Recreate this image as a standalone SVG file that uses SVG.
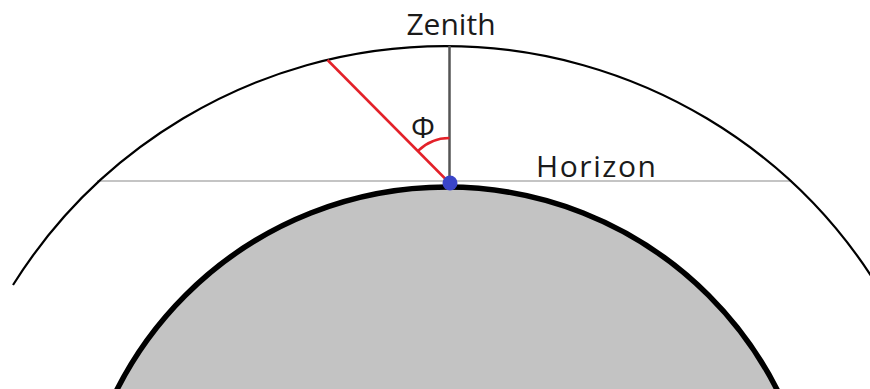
<svg xmlns="http://www.w3.org/2000/svg" width="870" height="389" viewBox="0 0 870 389">
<style>
.lbl{font-family:"Open Sans","Noto Sans","Liberation Sans",sans-serif;font-size:30px;fill:#1a1a1a}
.red{stroke:#e32129;fill:none;stroke-width:2.5}
</style>
<rect width="870" height="389" fill="#ffffff"/>
<g id="connectors">
<line id="horizon-line" x1="97" y1="181" x2="792" y2="181" stroke="#c4c4c4" stroke-width="2.2"/>
</g>
<g id="atmosphere">
<path d="M13 285 A510 510 0 0 1 877 285" fill="none" stroke="#000" stroke-width="2.2"/>
</g>
<g id="earth">
<circle cx="447" cy="557" r="370" fill="#c3c3c3" stroke="#000" stroke-width="5.5"/>
</g>
<g id="zenith-ray">
<line x1="449.5" y1="46" x2="449.5" y2="183" stroke="#555555" stroke-width="2.5"/>
</g>
<g id="view-ray">
<line class="red" x1="449.5" y1="183" x2="327.5" y2="60"/>
<path class="red" d="M449.5 138 A45 45 0 0 0 417.7 151.2"/>
</g>
<g id="observer">
<circle cx="450" cy="183" r="7.5" fill="#3a45c8"/>
</g>
<g id="labels">
<text class="lbl" x="451" y="35" text-anchor="middle">Zenith</text>
<text class="lbl" x="536" y="177" textLength="120" lengthAdjust="spacing">Horizon</text>
<text class="lbl" x="423" y="138" text-anchor="middle">Φ</text>
</g>
</svg>
